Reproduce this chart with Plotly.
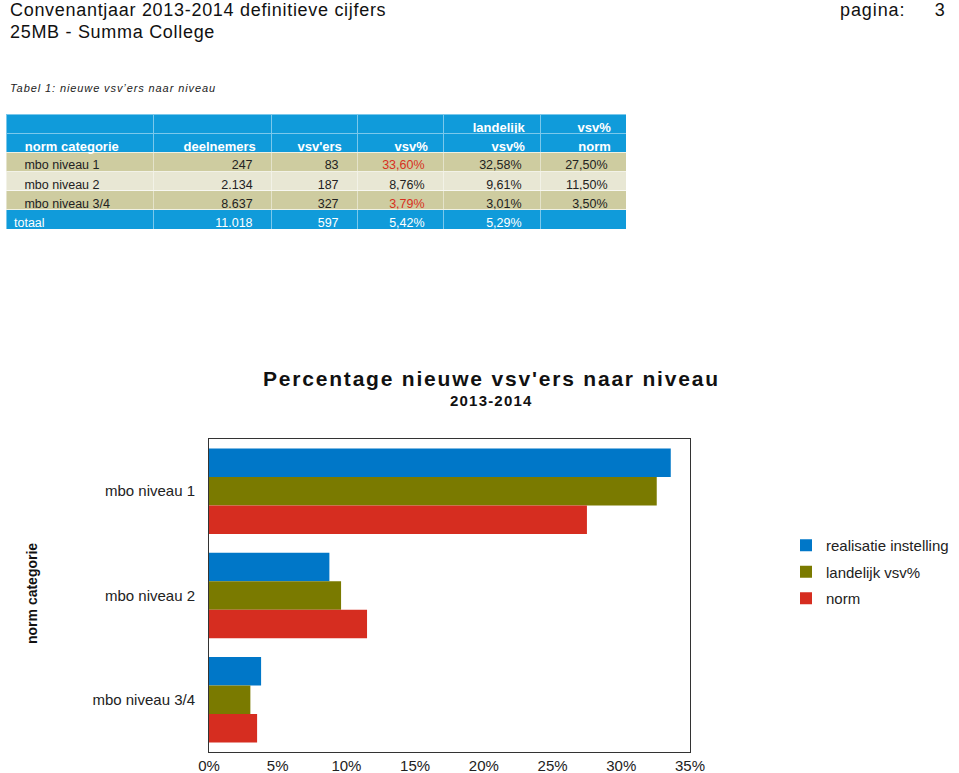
import plotly.graph_objects as go

W, H = 959, 773

# ---------------- data ----------------
categories = ["mbo niveau 1", "mbo niveau 2", "mbo niveau 3/4"]
deelnemers = [247, 2134, 8637]
vsvers = [83, 187, 327]
vsv_pct = [33.60, 8.76, 3.79]
landelijk_pct = [32.58, 9.61, 3.01]
norm_pct = [27.50, 11.50, 3.50]
totaal_deelnemers = 11018
totaal_vsvers = 597
totaal_vsv_pct = 5.42
totaal_landelijk_pct = 5.29

table_header_top = ["", "", "", "", "landelijk", "vsv%"]
table_header_bottom = ["norm categorie", "deelnemers", "vsv'ers", "vsv%", "vsv%", "norm"]

series_names = ["realisatie instelling", "landelijk vsv%", "norm"]
series_values = [vsv_pct, landelijk_pct, norm_pct]
series_colors = ["#0077c8", "#7a7a00", "#d62d20"]

x_tickvals = [0, 0.05, 0.10, 0.15, 0.20, 0.25, 0.30, 0.35]

FONT = "Liberation Sans, Arial, Helvetica, sans-serif"


def px(x):
    return min(1.0, max(0.0, x / W))


def py(y):
    return min(1.0, max(0.0, 1 - y / H))


def nl_int(n):
    return f"{n:,}".replace(",", ".")


def nl_pct(v):
    return f"{v:.2f}".replace(".", ",") + "%"


def ls(text, spacing):
    return f"<span style='letter-spacing:{spacing}px'>{text}</span>"


NB = "\u00a0"

fig = go.Figure()

# ---------------- table ----------------
BLUE = "rgb(16,155,218)"
ROW_A = "rgb(206,204,160)"
ROW_B = "rgb(232,231,212)"
TXT = "#222222"
RED = "#d8301e"

col_vals = [
    categories + ["totaal"],
    [nl_int(v) for v in deelnemers] + [nl_int(totaal_deelnemers)],
    [nl_int(v) for v in vsvers] + [nl_int(totaal_vsvers)],
    [nl_pct(v) for v in vsv_pct] + [nl_pct(totaal_vsv_pct)],
    [nl_pct(v) for v in landelijk_pct] + [nl_pct(totaal_landelijk_pct)],
    [nl_pct(v) for v in norm_pct] + [""],
]

n_rows = len(categories) + 1
cell_text = []
for ci, col in enumerate(col_vals):
    out = []
    for ri, v in enumerate(col):
        if ri == n_rows - 1:
            out.append(v if ci == 0 else (v + NB * 3 if v else ""))
        else:
            out.append(NB * 3 + v if ci == 0 else v + NB * 3)
    cell_text.append(out)

row_fill = [ROW_A, ROW_B, ROW_A, BLUE]
fill_colors = [row_fill[:] for _ in col_vals]

font_colors = []
for ci in range(len(col_vals)):
    c = [TXT, TXT, TXT, "white"]
    if ci == 3:
        c = [RED if vsv_pct[i] > norm_pct[i] else TXT for i in range(len(categories))] + ["white"]
    font_colors.append(c)

header_vals = []
for ci in range(len(table_header_top)):
    a = table_header_top[ci]
    b = table_header_bottom[ci]
    if ci == 0:
        header_vals.append([a, NB * 3 + b])
    else:
        header_vals.append([a + NB * 2 if a else "", b + NB * 2])

fig.add_trace(go.Table(
    domain=dict(x=[px(6), px(626)], y=[py(238), py(114)]),
    columnwidth=[147, 118, 86, 86, 97, 86],
    header=dict(
        values=header_vals,
        fill_color=BLUE,
        line=dict(color="rgba(255,255,255,0.45)", width=1),
        align=["left", "right", "right", "right", "right", "right"],
        font=dict(family=FONT, size=13, color="white", weight="bold"),
        height=19,
    ),
    cells=dict(
        values=cell_text,
        fill_color=fill_colors,
        line=dict(color="rgba(255,255,255,0.45)", width=1),
        align=["left", "right", "right", "right", "right", "right"],
        font=dict(family=FONT, size=12.5, color=font_colors),
        height=19.25,
    ),
))

# ---------------- bar chart ----------------
for name, vals, col in zip(series_names, series_values, series_colors):
    fig.add_trace(go.Bar(
        y=categories,
        x=[v / 100 for v in vals],
        orientation="h",
        name=name,
        legendgroup=name,
        marker=dict(color=col, line=dict(width=0)),
        hoverinfo="x+y+name",
    ))

fig.update_layout(
    width=W,
    height=H,
    margin=dict(l=0, r=0, t=0, b=0, autoexpand=False),
    paper_bgcolor="white",
    plot_bgcolor="white",
    font=dict(family=FONT, color="#222222"),
    barmode="group",
    bargap=0.18,
    bargroupgap=0,
    showlegend=True,
    legend=dict(
        x=px(786), y=py(529), xanchor="left", yanchor="top",
        font=dict(size=15, color="#222222"),
        traceorder="grouped",
        tracegroupgap=4,
        itemwidth=30,
        bgcolor="rgba(0,0,0,0)",
    ),
    xaxis=dict(
        domain=[px(209), px(690)],
        range=[0, 0.35],
        tickvals=x_tickvals,
        tickformat=".0%",
        showgrid=False,
        zeroline=False,
        showline=True,
        mirror=True,
        linecolor="#333333",
        linewidth=1,
        ticks="",
        tickfont=dict(size=15, color="#222222"),
        fixedrange=True,
    ),
    yaxis=dict(
        domain=[py(752), py(439)],
        autorange="reversed",
        showgrid=False,
        zeroline=False,
        showline=True,
        mirror=True,
        linecolor="#333333",
        linewidth=1,
        ticks="",
        ticklabelstandoff=10,
        tickfont=dict(size=15, color="#222222"),
        fixedrange=True,
    ),
)

annotations = [
    dict(text=ls("Convenantjaar 2013-2014 definitieve cijfers", 0.7), x=px(8), y=py(10),
         xanchor="left", yanchor="middle", font=dict(size=18, color="#111111")),
    dict(text=ls("25MB - Summa College", 0.7), x=px(8), y=py(32),
         xanchor="left", yanchor="middle", font=dict(size=18, color="#111111")),
    dict(text=ls("pagina:" + NB * 5 + "3", 0.9), x=px(948), y=py(10),
         xanchor="right", yanchor="middle", font=dict(size=18, color="#111111")),
    dict(text="<i>" + ls("Tabel 1: nieuwe vsv\u2019ers naar niveau", 0.9) + "</i>", x=px(8), y=py(88),
         xanchor="left", yanchor="middle", font=dict(size=11, color="#222222")),
    dict(text="<b>" + ls("Percentage nieuwe vsv'ers naar niveau", 1.8) + "</b>", x=px(491), y=py(378),
         xanchor="center", yanchor="middle", font=dict(size=21, color="#111111")),
    dict(text="<b>" + ls("2013-2014", 1.2) + "</b>", x=px(491), y=py(400),
         xanchor="center", yanchor="middle", font=dict(size=15, color="#111111")),
    dict(text="<b>norm categorie</b>", x=px(32), y=py(594), textangle=-90,
         xanchor="center", yanchor="middle", font=dict(size=14, color="#111111")),
]
for a in annotations:
    a.update(xref="paper", yref="paper", showarrow=False)
fig.update_layout(annotations=annotations)

fig.write_html("out.html", config={"displayModeBar": False},
               post_script="document.body.style.margin='0';")
